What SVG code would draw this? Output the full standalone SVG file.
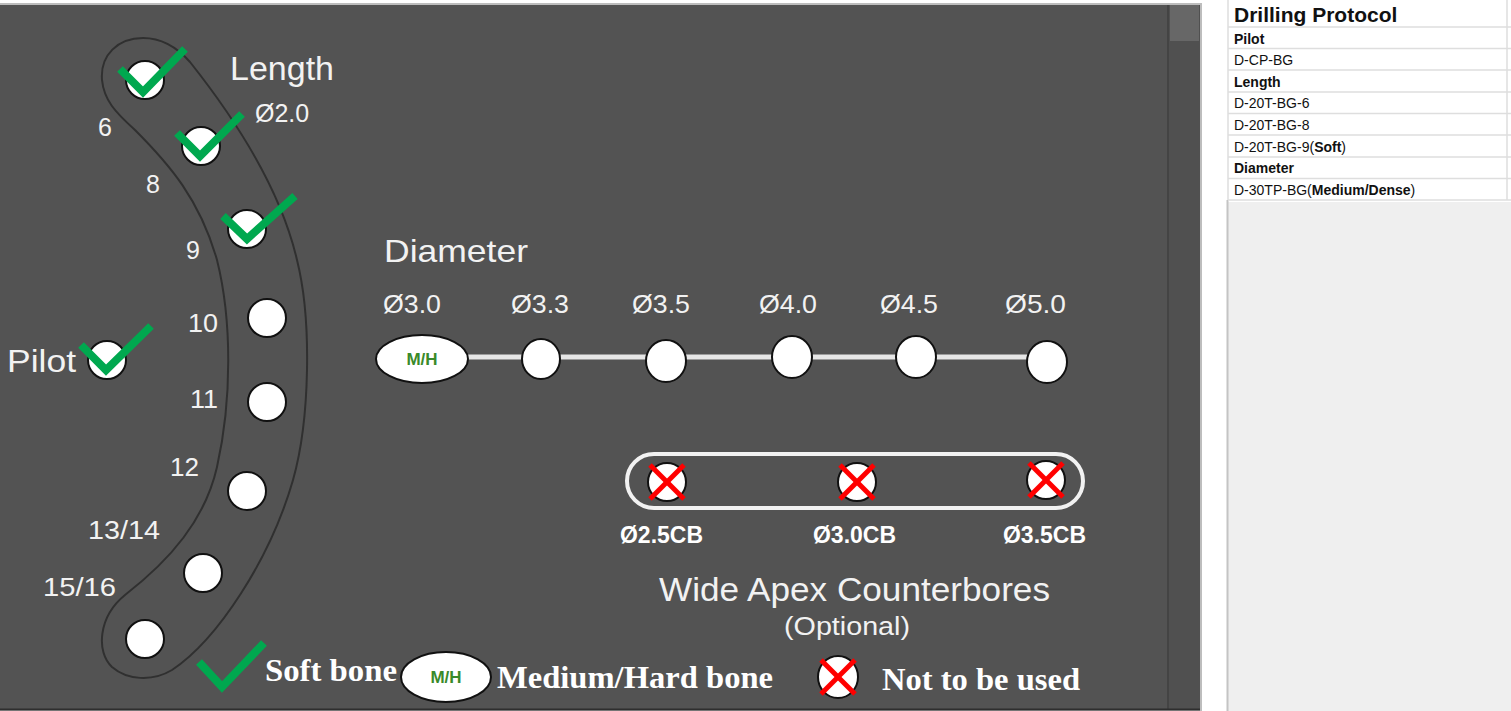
<svg xmlns="http://www.w3.org/2000/svg" width="1511" height="711" viewBox="0 0 1511 711">
<style>
.lbl{font-family:"Liberation Sans",Arial,sans-serif;fill:#f2f2f2}
.bold{font-family:"Liberation Sans",Arial,sans-serif;fill:#ffffff;font-weight:bold}
.times{font-family:"Liberation Serif","Times New Roman",serif;fill:#ffffff;font-weight:bold}
.hole{fill:#ffffff;stroke:#111;stroke-width:2}
.chk{fill:none;stroke:#00a84f;stroke-width:8;stroke-linecap:butt;stroke-linejoin:miter}
.x{stroke:#ff0000;stroke-width:5}
.mh{font-family:"Liberation Sans",Arial,sans-serif;font-weight:bold;fill:#3a8a2a;font-size:17px}
.tbl{font-family:"Liberation Sans",Arial,sans-serif;fill:#111;font-size:14px}
.grid{stroke:#dedede;stroke-width:1.5}
</style>
<defs>
<g id="xmark"><line class="x" x1="-17" y1="-17" x2="17" y2="17"/><line class="x" x1="17" y1="-17" x2="-17" y2="17"/></g>
</defs>
<rect x="0" y="0" width="1511" height="711" fill="#ffffff"/>
<g id="panel">
<rect x="0" y="3" width="1202" height="708" fill="#bdbdbd"/>
<rect x="0" y="5" width="1200" height="704" fill="#535353"/>
<rect x="1168" y="5" width="32" height="704" fill="#505050"/>
<line x1="1168" y1="5" x2="1168" y2="709" stroke="#444" stroke-width="2"/>
<rect x="1170" y="5" width="29" height="36" fill="#676767"/>
<line x1="0" y1="709.5" x2="1200" y2="709.5" stroke="#2e2e2e" stroke-width="2"/>
</g>
<g id="sheet">
<rect x="1228" y="202" width="283" height="509" fill="#efefef"/>
<line x1="1227.5" y1="200" x2="1227.5" y2="711" stroke="#c4c4c4" stroke-width="2"/>
<g class="grid">
<line x1="1228" y1="27" x2="1511" y2="27"/>
<line x1="1228" y1="48.5" x2="1511" y2="48.5"/>
<line x1="1228" y1="70" x2="1511" y2="70"/>
<line x1="1228" y1="92" x2="1511" y2="92"/>
<line x1="1228" y1="113.5" x2="1511" y2="113.5"/>
<line x1="1228" y1="135" x2="1511" y2="135"/>
<line x1="1228" y1="157" x2="1511" y2="157"/>
<line x1="1228" y1="178.5" x2="1511" y2="178.5"/>
<line x1="1228" y1="200" x2="1511" y2="200"/>
<line x1="1507" y1="0" x2="1507" y2="200"/>
<line x1="1228" y1="0" x2="1228" y2="200"/>
</g>
<text x="1234" y="22" font-family="'Liberation Sans',Arial,sans-serif" font-weight="bold" font-size="21" fill="#111">Drilling Protocol</text>
<text class="tbl" x="1234" y="44" font-weight="bold">Pilot</text>
<text class="tbl" x="1234" y="65">D-CP-BG</text>
<text class="tbl" x="1234" y="87" font-weight="bold">Length</text>
<text class="tbl" x="1234" y="108">D-20T-BG-6</text>
<text class="tbl" x="1234" y="130">D-20T-BG-8</text>
<text class="tbl" x="1234" y="152">D-20T-BG-9(<tspan font-weight="bold">Soft</tspan>)</text>
<text class="tbl" x="1234" y="173" font-weight="bold">Diameter</text>
<text class="tbl" x="1234" y="195">D-30TP-BG(<tspan font-weight="bold">Medium/Dense</tspan>)</text>
</g>
<g id="band">
<path d="M 143,38 C 118,38 100,55 102,80 C 104,100 115,112 135,130 C 170,165 200,200 217,260 C 232,320 232,400 217,467 C 205,520 170,560 125,595 C 98,617 96,652 112,667 C 127,680 152,682 172,670 C 217,640 270,560 293,480 C 310,420 312,320 297,260 C 282,195 240,125 190,62 C 175,45 160,38 143,38 Z" fill="none" stroke="#303030" stroke-width="2"/>
<text class="lbl" x="230" y="80" font-size="33" textLength="104" lengthAdjust="spacingAndGlyphs">Length</text>
<text class="lbl" x="255" y="122" font-size="25">Ø2.0</text>
</g>
<g id="len6"><circle class="hole" cx="145" cy="80" r="19"/><polyline class="chk" points="120,69 143,92 185,49"/><text class="lbl" x="98" y="136" font-size="25">6</text></g>
<g id="len8"><circle class="hole" cx="201" cy="146" r="19"/><polyline class="chk" points="177,133 200,156 242,114"/><text class="lbl" x="146" y="193" font-size="25">8</text></g>
<g id="len9"><circle class="hole" cx="247" cy="229" r="19"/><polyline class="chk" points="223,216 247,239 295,196"/><text class="lbl" x="186" y="259" font-size="25">9</text></g>
<g id="len10"><circle class="hole" cx="267" cy="318" r="19"/><text class="lbl" x="188" y="332" font-size="25" textLength="30" lengthAdjust="spacingAndGlyphs">10</text></g>
<g id="len11"><circle class="hole" cx="267" cy="402" r="19"/><text class="lbl" x="190" y="408" font-size="25" textLength="28" lengthAdjust="spacingAndGlyphs">11</text></g>
<g id="len12"><circle class="hole" cx="247" cy="491" r="19"/><text class="lbl" x="170" y="476" font-size="25" textLength="29" lengthAdjust="spacingAndGlyphs">12</text></g>
<g id="len1314"><circle class="hole" cx="203" cy="573" r="19"/><text class="lbl" x="88" y="539" font-size="25" textLength="72" lengthAdjust="spacingAndGlyphs">13/14</text></g>
<g id="len1516"><circle class="hole" cx="145" cy="639" r="19"/><text class="lbl" x="43" y="596" font-size="25" textLength="73" lengthAdjust="spacingAndGlyphs">15/16</text></g>
<g id="pilot"><circle class="hole" cx="107" cy="360" r="19"/><polyline class="chk" points="81,345 106,370 151,326"/><text class="lbl" x="7" y="372" font-size="32" textLength="69" lengthAdjust="spacingAndGlyphs">Pilot</text></g>
<g id="connectors">
<line x1="468" y1="357" x2="1030" y2="357" stroke="#e6e6e6" stroke-width="5"/>
</g>
<g id="diameter-title"><text class="lbl" x="384" y="262" font-size="32" textLength="144" lengthAdjust="spacingAndGlyphs">Diameter</text></g>
<g id="d30"><ellipse class="hole" cx="422" cy="359" rx="46" ry="24"/><text class="mh" x="422" y="365" text-anchor="middle">M/H</text><text class="lbl" x="383" y="313" font-size="26" textLength="58" lengthAdjust="spacingAndGlyphs">Ø3.0</text></g>
<g id="d33"><ellipse class="hole" cx="541" cy="359" rx="19" ry="20"/><text class="lbl" x="511" y="313" font-size="26" textLength="58" lengthAdjust="spacingAndGlyphs">Ø3.3</text></g>
<g id="d35"><ellipse class="hole" cx="666" cy="361" rx="20" ry="21"/><text class="lbl" x="632" y="313" font-size="26" textLength="58" lengthAdjust="spacingAndGlyphs">Ø3.5</text></g>
<g id="d40"><ellipse class="hole" cx="792" cy="357" rx="20" ry="21"/><text class="lbl" x="759" y="313" font-size="26" textLength="58" lengthAdjust="spacingAndGlyphs">Ø4.0</text></g>
<g id="d45"><ellipse class="hole" cx="916" cy="357" rx="20" ry="21"/><text class="lbl" x="880" y="313" font-size="26" textLength="58" lengthAdjust="spacingAndGlyphs">Ø4.5</text></g>
<g id="d50"><ellipse class="hole" cx="1047" cy="362" rx="20" ry="21"/><text class="lbl" x="1005" y="313" font-size="26" textLength="61" lengthAdjust="spacingAndGlyphs">Ø5.0</text></g>
<g id="counterbores">
<rect x="627" y="454" width="456" height="54" rx="27" ry="27" fill="none" stroke="#f2f2f2" stroke-width="4"/>
<text class="lbl" x="659" y="601" font-size="33" textLength="391" lengthAdjust="spacingAndGlyphs">Wide Apex Counterbores</text>
<text class="lbl" x="784" y="635" font-size="26" textLength="126" lengthAdjust="spacingAndGlyphs">(Optional)</text>
</g>
<g id="cb25"><circle class="hole" cx="667" cy="482" r="19"/><use href="#xmark" x="667" y="482"/><text class="bold" x="620" y="543" font-size="23" textLength="83" lengthAdjust="spacingAndGlyphs">Ø2.5CB</text></g>
<g id="cb30"><circle class="hole" cx="857" cy="482" r="19"/><use href="#xmark" x="857" y="482"/><text class="bold" x="813" y="543" font-size="23" textLength="83" lengthAdjust="spacingAndGlyphs">Ø3.0CB</text></g>
<g id="cb35"><circle class="hole" cx="1046" cy="480" r="19"/><use href="#xmark" x="1046" y="480"/><text class="bold" x="1003" y="543" font-size="23" textLength="83" lengthAdjust="spacingAndGlyphs">Ø3.5CB</text></g>
<g id="legend">
<polyline class="chk" points="199,662 222,687 264,643"/>
<text class="times" x="265" y="681" font-size="32" textLength="132" lengthAdjust="spacingAndGlyphs">Soft bone</text>
<ellipse class="hole" cx="446" cy="677" rx="45" ry="25"/>
<text class="mh" x="446" y="683" text-anchor="middle">M/H</text>
<text class="times" x="497" y="688" font-size="32" textLength="276" lengthAdjust="spacingAndGlyphs">Medium/Hard bone</text>
<ellipse class="hole" cx="838" cy="677" rx="20" ry="21"/>
<use href="#xmark" x="838" y="677"/>
<text class="times" x="882" y="690" font-size="32" textLength="198" lengthAdjust="spacingAndGlyphs">Not to be used</text>
</g>
</svg>
